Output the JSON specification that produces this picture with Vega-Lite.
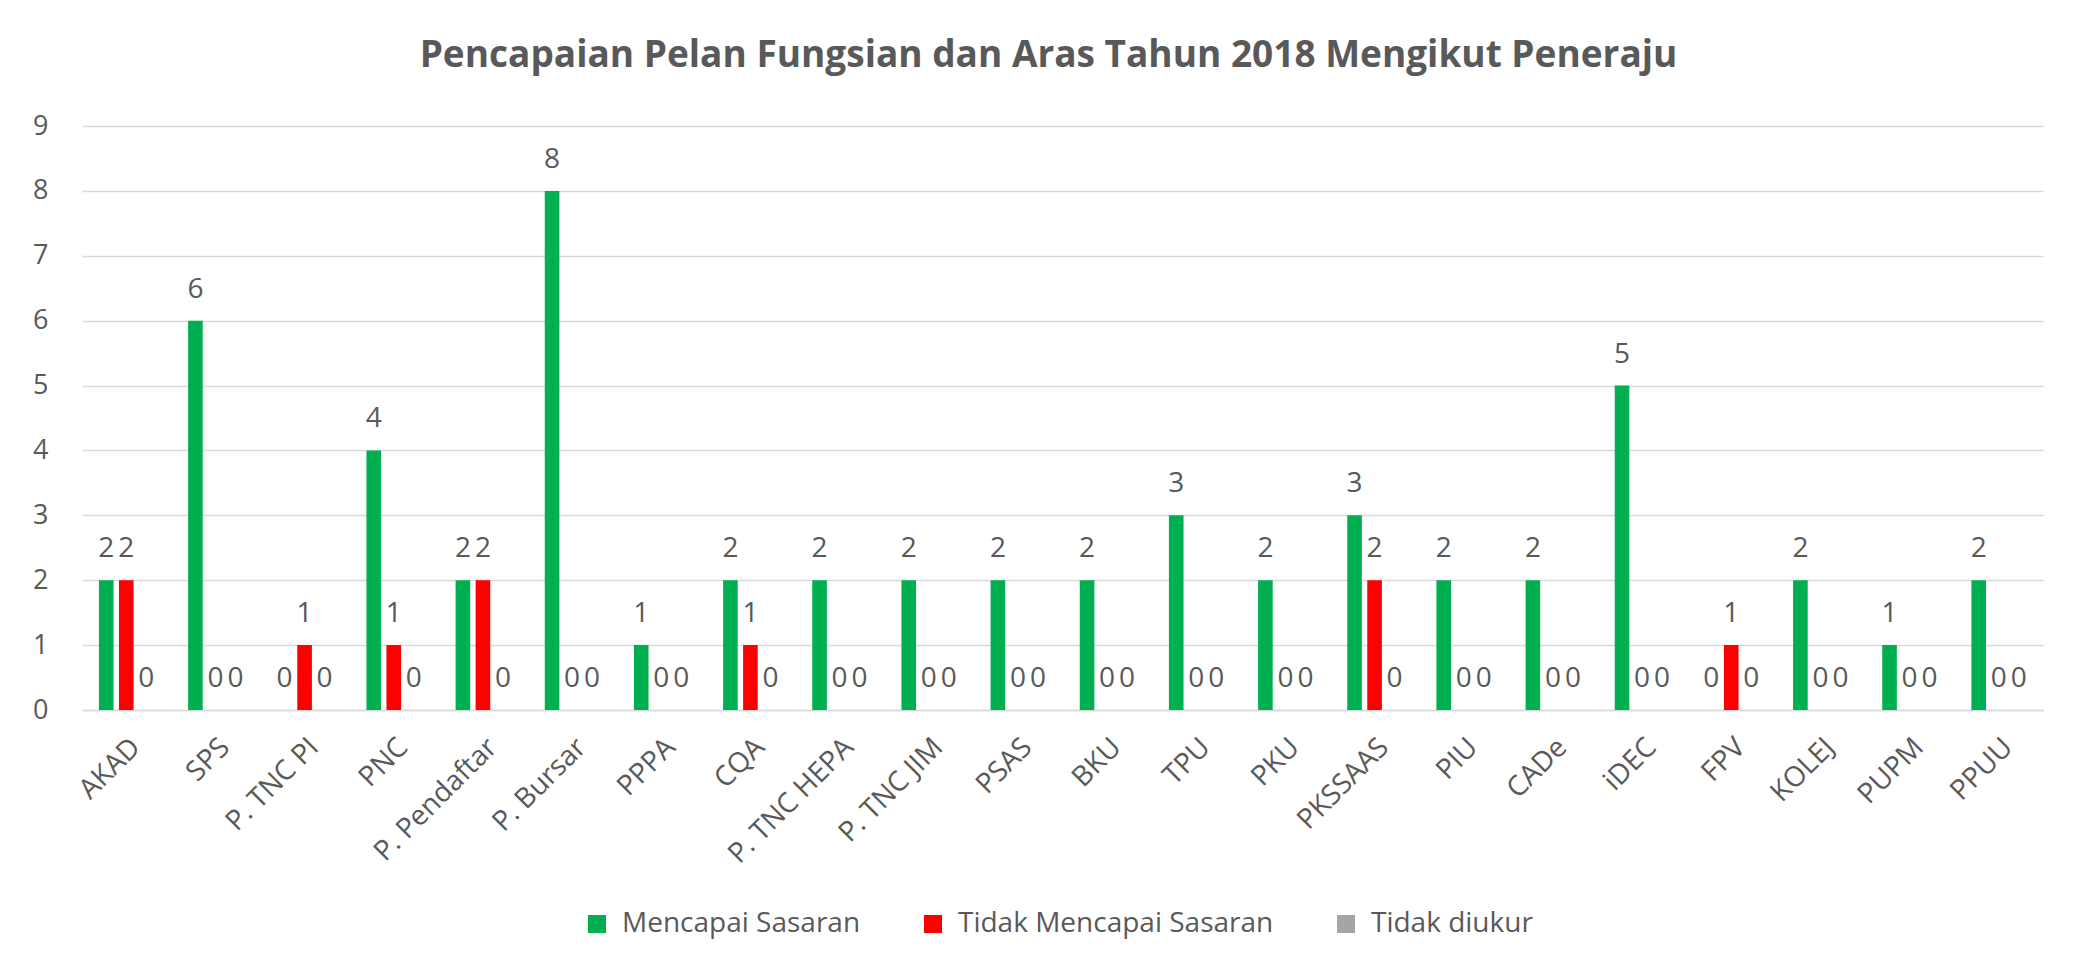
{
  "$schema": "https://vega.github.io/schema/vega-lite/v6.json",
  "width": 1961,
  "height": 584,
  "autosize": {"type": "none"},
  "padding": {"left": 82, "top": 126, "right": 30, "bottom": 261},
  "background": "white",
  "title": {
    "text": "Pencapaian Pelan Fungsian dan Aras Tahun 2018 Mengikut Peneraju",
    "font": "Open Sans",
    "fontSize": 37,
    "fontWeight": "bold",
    "color": "#595959",
    "anchor": "middle",
    "frame": "group",
    "baseline": "alphabetic",
    "offset": 8,
    "dx": -14
  },
  "data": {
    "values": [
      {"unit": "AKAD", "series": "Mencapai Sasaran", "value": 2},
      {"unit": "AKAD", "series": "Tidak Mencapai Sasaran", "value": 2},
      {"unit": "AKAD", "series": "Tidak diukur", "value": 0},
      {"unit": "SPS", "series": "Mencapai Sasaran", "value": 6},
      {"unit": "SPS", "series": "Tidak Mencapai Sasaran", "value": 0},
      {"unit": "SPS", "series": "Tidak diukur", "value": 0},
      {"unit": "P. TNC PI", "series": "Mencapai Sasaran", "value": 0},
      {"unit": "P. TNC PI", "series": "Tidak Mencapai Sasaran", "value": 1},
      {"unit": "P. TNC PI", "series": "Tidak diukur", "value": 0},
      {"unit": "PNC", "series": "Mencapai Sasaran", "value": 4},
      {"unit": "PNC", "series": "Tidak Mencapai Sasaran", "value": 1},
      {"unit": "PNC", "series": "Tidak diukur", "value": 0},
      {"unit": "P. Pendaftar", "series": "Mencapai Sasaran", "value": 2},
      {"unit": "P. Pendaftar", "series": "Tidak Mencapai Sasaran", "value": 2},
      {"unit": "P. Pendaftar", "series": "Tidak diukur", "value": 0},
      {"unit": "P. Bursar", "series": "Mencapai Sasaran", "value": 8},
      {"unit": "P. Bursar", "series": "Tidak Mencapai Sasaran", "value": 0},
      {"unit": "P. Bursar", "series": "Tidak diukur", "value": 0},
      {"unit": "PPPA", "series": "Mencapai Sasaran", "value": 1},
      {"unit": "PPPA", "series": "Tidak Mencapai Sasaran", "value": 0},
      {"unit": "PPPA", "series": "Tidak diukur", "value": 0},
      {"unit": "CQA", "series": "Mencapai Sasaran", "value": 2},
      {"unit": "CQA", "series": "Tidak Mencapai Sasaran", "value": 1},
      {"unit": "CQA", "series": "Tidak diukur", "value": 0},
      {"unit": "P. TNC HEPA", "series": "Mencapai Sasaran", "value": 2},
      {"unit": "P. TNC HEPA", "series": "Tidak Mencapai Sasaran", "value": 0},
      {"unit": "P. TNC HEPA", "series": "Tidak diukur", "value": 0},
      {"unit": "P. TNC JIM", "series": "Mencapai Sasaran", "value": 2},
      {"unit": "P. TNC JIM", "series": "Tidak Mencapai Sasaran", "value": 0},
      {"unit": "P. TNC JIM", "series": "Tidak diukur", "value": 0},
      {"unit": "PSAS", "series": "Mencapai Sasaran", "value": 2},
      {"unit": "PSAS", "series": "Tidak Mencapai Sasaran", "value": 0},
      {"unit": "PSAS", "series": "Tidak diukur", "value": 0},
      {"unit": "BKU", "series": "Mencapai Sasaran", "value": 2},
      {"unit": "BKU", "series": "Tidak Mencapai Sasaran", "value": 0},
      {"unit": "BKU", "series": "Tidak diukur", "value": 0},
      {"unit": "TPU", "series": "Mencapai Sasaran", "value": 3},
      {"unit": "TPU", "series": "Tidak Mencapai Sasaran", "value": 0},
      {"unit": "TPU", "series": "Tidak diukur", "value": 0},
      {"unit": "PKU", "series": "Mencapai Sasaran", "value": 2},
      {"unit": "PKU", "series": "Tidak Mencapai Sasaran", "value": 0},
      {"unit": "PKU", "series": "Tidak diukur", "value": 0},
      {"unit": "PKSSAAS", "series": "Mencapai Sasaran", "value": 3},
      {"unit": "PKSSAAS", "series": "Tidak Mencapai Sasaran", "value": 2},
      {"unit": "PKSSAAS", "series": "Tidak diukur", "value": 0},
      {"unit": "PIU", "series": "Mencapai Sasaran", "value": 2},
      {"unit": "PIU", "series": "Tidak Mencapai Sasaran", "value": 0},
      {"unit": "PIU", "series": "Tidak diukur", "value": 0},
      {"unit": "CADe", "series": "Mencapai Sasaran", "value": 2},
      {"unit": "CADe", "series": "Tidak Mencapai Sasaran", "value": 0},
      {"unit": "CADe", "series": "Tidak diukur", "value": 0},
      {"unit": "iDEC", "series": "Mencapai Sasaran", "value": 5},
      {"unit": "iDEC", "series": "Tidak Mencapai Sasaran", "value": 0},
      {"unit": "iDEC", "series": "Tidak diukur", "value": 0},
      {"unit": "FPV", "series": "Mencapai Sasaran", "value": 0},
      {"unit": "FPV", "series": "Tidak Mencapai Sasaran", "value": 1},
      {"unit": "FPV", "series": "Tidak diukur", "value": 0},
      {"unit": "KOLEJ", "series": "Mencapai Sasaran", "value": 2},
      {"unit": "KOLEJ", "series": "Tidak Mencapai Sasaran", "value": 0},
      {"unit": "KOLEJ", "series": "Tidak diukur", "value": 0},
      {"unit": "PUPM", "series": "Mencapai Sasaran", "value": 1},
      {"unit": "PUPM", "series": "Tidak Mencapai Sasaran", "value": 0},
      {"unit": "PUPM", "series": "Tidak diukur", "value": 0},
      {"unit": "PPUU", "series": "Mencapai Sasaran", "value": 2},
      {"unit": "PPUU", "series": "Tidak Mencapai Sasaran", "value": 0},
      {"unit": "PPUU", "series": "Tidak diukur", "value": 0}
    ]
  },
  "encoding": {
    "x": {
      "field": "unit",
      "type": "nominal",
      "sort": null,
      "scale": {"paddingInner": 0.387, "paddingOuter": 0.19},
      "axis": {
        "title": null,
        "labelAngle": -45,
        "labelAlign": "right",
        "labelBaseline": "top",
        "labelFont": "Open Sans",
        "labelFontSize": 28,
        "labelColor": "#595959",
        "labelPadding": 23,
        "labelLimit": 400,
        "ticks": false,
        "domainColor": "#D9D9D9",
        "domainWidth": 1.5
      }
    },
    "xOffset": {
      "field": "series",
      "type": "nominal",
      "sort": ["Mencapai Sasaran", "Tidak Mencapai Sasaran", "Tidak diukur"],
      "scale": {"paddingInner": 0.27, "paddingOuter": 0}
    },
    "y": {
      "field": "value",
      "type": "quantitative",
      "scale": {"domain": [0, 9]},
      "axis": {
        "title": null,
        "values": [0, 1, 2, 3, 4, 5, 6, 7, 8, 9],
        "labelFont": "Open Sans",
        "labelFontSize": 27,
        "labelColor": "#595959",
        "labelPadding": 34,
        "ticks": false,
        "domain": false,
        "gridColor": "#D9D9D9",
        "gridWidth": 1.5
      }
    }
  },
  "layer": [
    {
      "mark": {"type": "bar"},
      "encoding": {
        "color": {
          "field": "series",
          "type": "nominal",
          "scale": {
            "domain": ["Mencapai Sasaran", "Tidak Mencapai Sasaran", "Tidak diukur"],
            "range": ["#00B050", "#FF0000", "#A5A5A5"]
          },
          "legend": {
            "title": null,
            "orient": "none",
            "direction": "horizontal",
            "legendX": 501,
            "legendY": 784,
            "symbolType": "square",
            "symbolSize": 324,
            "symbolStrokeWidth": 0,
            "symbolOpacity": 1,
            "labelFont": "Open Sans",
            "labelFontSize": 28,
            "labelColor": "#595959",
            "labelOffset": 11,
            "labelLimit": 500,
            "columnPadding": 58
          }
        }
      }
    },
    {
      "mark": {
        "type": "text",
        "baseline": "alphabetic",
        "dy": -23,
        "font": "Open Sans",
        "fontSize": 28,
        "color": "#595959"
      },
      "encoding": {
        "text": {"field": "value", "type": "quantitative"}
      }
    }
  ],
  "config": {
    "view": {"stroke": null}
  }
}
